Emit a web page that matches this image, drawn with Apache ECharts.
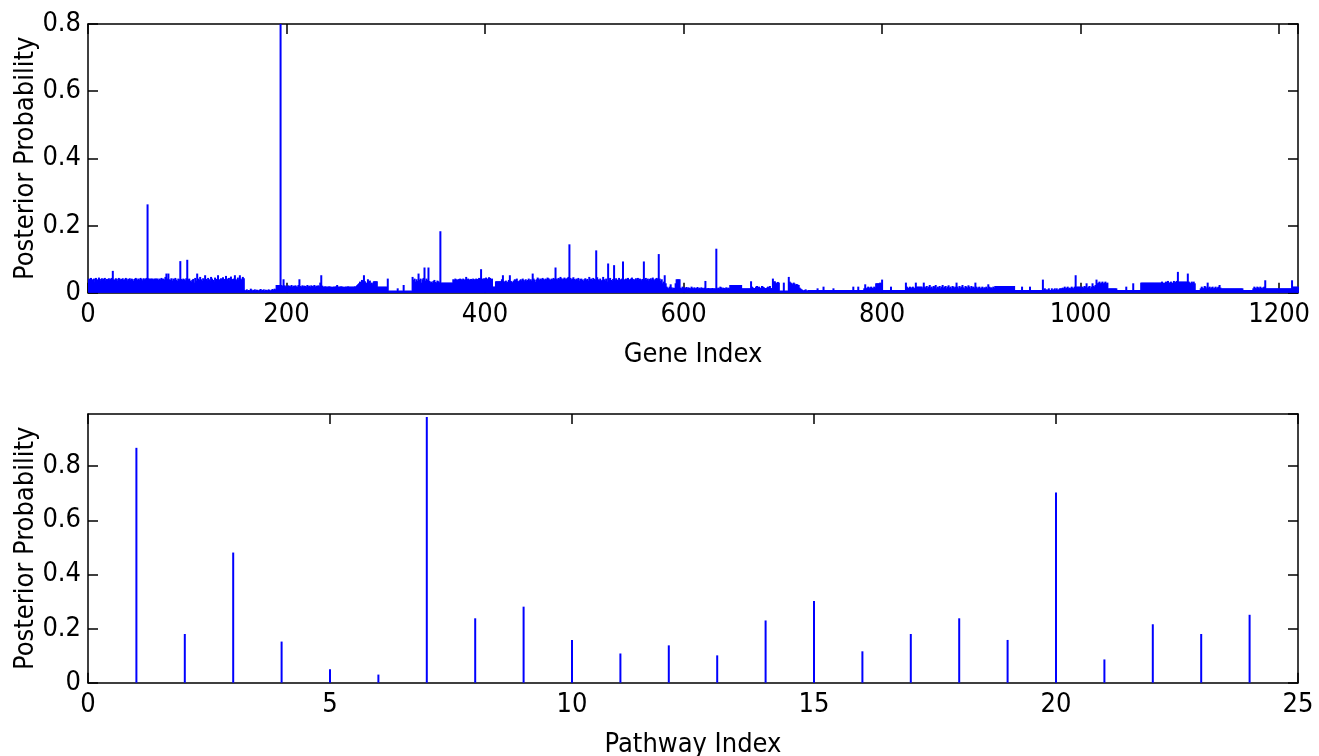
<!DOCTYPE html>
<html><head><meta charset="utf-8">
<script src="https://cdn.jsdelivr.net/npm/echarts@6/dist/echarts.min.js"></script>
<style>html,body{margin:0;padding:0;background:#fff}#c{width:1319px;height:756px}</style>
</head><body><div id="c"></div>
<script>
// Posterior probability per gene (gene 1..1219), in thousandths
const geneProbPermille = [
42,38,44,35,40,42,31,44,40,38,45,41,36,43,39,42,44,37,41,40,
43,39,42,44,65,40,38,43,41,36,44,42,39,41,43,38,40,44,42,37,
41,43,39,42,40,35,41,44,42,38,42,39,44,41,37,43,40,42,44,263,
43,41,42,42,42,40,42,42,42,42,38,42,40,44,41,42,39,47,57,42,
57,40,38,43,36,42,40,44,39,35,42,40,94,41,38,42,40,37,43,98,
40,42,36,33,38,41,30,44,36,57,42,38,47,40,35,43,39,52,41,37,
44,40,36,47,42,38,33,45,41,39,52,40,36,43,38,46,41,37,50,42,
39,44,36,48,41,38,42,52,40,37,45,39,52,42,38,47,43,8,6,10,
6,8,7,12,9,6,8,10,7,9,8,6,9,11,7,8,10,6,9,8,
7,10,8,6,9,11,8,12,10,23,23,23,23,800,23,20,40,22,19,21,
18,22,20,19,23,18,21,20,22,19,18,23,40,20,18,22,19,21,20,18,
23,19,21,18,22,20,19,23,18,21,20,22,19,30,52,21,18,18,19,18,
18,18,19,18,18,17,18,18,18,19,23,18,18,18,19,18,18,17,18,18,
18,19,18,18,18,18,18,18,19,18,22,25,28,33,30,38,35,52,34,30,
28,40,33,36,27,30,25,34,34,34,34,18,18,18,18,18,18,18,18,18,
18,42,6,6,6,6,6,6,6,6,6,13,6,6,6,6,6,23,6,6,
6,6,6,6,6,6,47,38,42,33,40,35,57,38,42,30,40,44,75,36,
42,38,75,35,31,33,30,35,38,32,30,36,34,31,183,30,30,30,30,30,
30,30,30,30,30,30,30,40,38,42,40,38,40,41,42,40,39,42,38,40,
47,40,42,38,40,41,38,42,40,39,42,41,40,44,43,70,42,40,43,41,
45,40,42,46,44,40,42,18,18,18,34,34,34,34,34,34,40,52,34,32,
36,30,33,38,52,35,33,30,36,40,38,42,35,33,37,40,36,42,38,34,
40,35,38,42,37,40,36,57,42,38,32,40,45,42,38,42,40,44,41,38,
42,40,45,43,40,38,42,40,44,41,75,42,40,44,42,47,43,40,42,45,
42,41,44,47,144,44,40,42,46,41,38,42,40,44,36,41,42,39,35,40,
43,38,41,36,47,40,42,38,44,41,39,126,46,40,37,42,35,38,47,40,
36,42,33,87,40,44,38,35,41,82,37,43,39,36,44,40,38,42,93,40,
36,42,39,44,40,38,42,45,41,37,40,43,38,44,39,42,40,36,41,93,
40,44,38,42,36,41,43,39,45,40,37,42,44,41,115,42,35,40,28,33,
52,28,18,15,13,18,25,16,13,15,14,28,40,40,40,40,15,13,18,16,
13,15,17,13,16,14,13,18,15,13,16,13,14,17,13,15,13,16,14,13,
15,35,13,13,14,13,13,13,14,13,13,13,131,13,15,13,18,16,13,15,
14,13,16,13,15,13,23,23,23,23,23,23,23,23,23,23,23,23,13,13,
13,13,13,13,13,13,13,34,18,15,13,14,18,20,16,18,13,15,20,18,
16,14,13,15,18,16,20,14,13,42,33,34,30,28,32,30,6,6,6,6,
30,6,6,6,6,47,33,30,28,25,30,27,23,26,24,23,15,12,10,8,
6,8,10,7,6,8,8,8,8,8,8,8,8,8,13,8,8,8,8,8,
18,8,8,8,8,8,8,8,8,8,13,8,8,8,8,8,8,8,8,8,
8,8,8,8,8,8,8,8,8,8,18,8,8,8,8,18,8,8,8,8,
8,13,25,13,15,18,13,16,18,15,13,18,15,28,28,28,28,30,28,39,
8,8,8,8,8,8,8,8,18,8,8,8,8,8,8,8,8,8,8,8,
8,8,8,30,18,15,13,18,16,13,18,15,13,30,18,18,18,18,18,18,
13,30,18,15,20,13,18,23,15,18,13,20,18,23,13,18,16,20,13,18,
23,15,18,20,13,18,22,15,18,13,20,18,15,18,30,18,13,20,15,18,
23,16,13,20,18,15,22,18,13,20,16,18,15,30,18,13,16,18,13,15,
18,13,16,15,18,13,25,18,15,16,13,18,15,20,20,20,20,20,20,20,
20,20,20,20,20,20,20,20,20,20,20,20,20,8,8,8,8,8,8,8,
18,8,8,8,8,8,8,8,18,8,8,8,8,8,8,8,8,8,8,8,
8,39,8,13,8,10,8,13,8,8,13,8,10,13,8,13,8,10,13,13,
13,15,13,18,13,15,18,13,15,13,18,15,13,18,52,18,18,18,18,18,
13,18,15,20,18,28,15,18,20,13,18,28,20,18,23,39,28,30,33,28,
30,33,28,30,33,28,30,13,13,13,13,13,13,13,13,13,8,8,8,8,
8,8,8,8,8,18,8,8,8,8,8,8,28,8,8,8,8,8,8,8,
30,30,30,30,30,30,30,30,30,30,30,30,30,30,30,30,30,30,30,30,
30,33,30,28,30,33,30,35,30,30,33,28,30,35,30,33,35,62,33,33,
33,33,33,33,33,33,33,57,33,30,28,33,30,33,28,8,8,8,8,8,
13,18,15,13,20,18,13,30,15,18,13,16,18,13,15,18,13,16,18,23,
15,13,13,13,13,13,13,13,13,13,13,13,13,13,13,13,13,13,13,13,
13,13,13,8,8,8,8,8,8,8,8,8,8,13,18,15,13,18,16,13,
18,15,13,16,18,37,13,13,13,13,13,13,13,13,13,13,13,13,13,13,
13,13,13,13,13,13,13,13,13,13,13,13,37,18,18,18,18,18,18
];

const pathwayIds = [1,2,3,4,5,6,7,8,9,10,11,12,13,14,15,16,17,18,19,20,21,22,23,24];
const pathwayProb = [0.868,0.18,0.481,0.152,0.05,0.03,0.982,0.238,0.281,0.158,0.108,0.138,
                     0.101,0.23,0.302,0.116,0.18,0.238,0.158,0.703,0.086,0.216,0.18,0.251];

const geneXTicks = [0,200,400,600,800,1000,1200];
const pathwayXTicks = [0,5,10,15,20,25];

const geneCount = geneProbPermille.length;
const FONT = "'DejaVu Sans Condensed','Liberation Sans Narrow','Liberation Sans',Arial,sans-serif";
const BLUE = '#0000ff';
const axisLine = {show:true, onZero:false, lineStyle:{color:'#000', width:1.5}};
const tick = {show:true, inside:true, length:10, lineStyle:{color:'#000', width:1.5}};
const label = {color:'#000', fontFamily:FONT, fontSize:27};
const nameStyle = {color:'#000', fontFamily:FONT, fontSize:27};
const plain = v => String(+v.toFixed(6));

function xAx(grid, max, interval, name, top) {
  return {
    gridIndex:grid, type:'value', min:0, max:max, interval:interval,
    position: top ? 'top' : 'bottom',
    axisLine:axisLine, axisTick:tick, splitLine:{show:false},
    axisLabel: top ? {show:false} : Object.assign({margin:9, formatter:plain, showMaxLabel: max % interval === 0}, label),
    name: top ? '' : name, nameLocation:'middle', nameGap:49, nameTextStyle:nameStyle
  };
}
function yAx(grid, max, name, right) {
  return {
    gridIndex:grid, type:'value', min:0, max:max, interval:0.2,
    position: right ? 'right' : 'left',
    axisLine:axisLine, axisTick:tick, splitLine:{show:false},
    axisLabel: right ? {show:false} : Object.assign({margin:7, formatter:plain, showMaxLabel: Math.abs(max/0.2 - Math.round(max/0.2)) < 1e-9}, label),
    name: right ? '' : name, nameLocation:'middle', nameGap:49, nameMoveOverlap:false, nameTextStyle:nameStyle
  };
}

const chart = echarts.init(document.getElementById('c'), null, {renderer:'canvas'});
chart.setOption({
  animation:false,
  backgroundColor:'#fff',
  grid:[
    {left:88, right:21, top:24, height:268.7, containLabel:false, outerBoundsMode:'none'},
    {left:88, right:21, top:414, height:268.7, containLabel:false, outerBoundsMode:'none'}
  ],
  xAxis:[
    xAx(0, geneCount, geneXTicks[1]-geneXTicks[0], 'Gene Index', false),
    xAx(0, geneCount, geneXTicks[1]-geneXTicks[0], '', true),
    xAx(1, pathwayXTicks[pathwayXTicks.length-1], pathwayXTicks[1]-pathwayXTicks[0], 'Pathway Index', false),
    xAx(1, pathwayXTicks[pathwayXTicks.length-1], pathwayXTicks[1]-pathwayXTicks[0], '', true)
  ],
  yAxis:[
    yAx(0, 0.8, 'Posterior Probability', false),
    yAx(0, 0.8, '', true),
    yAx(1, 0.993, 'Posterior Probability', false),
    yAx(1, 0.993, '', true)
  ],
  series:[
    {
      type:'bar', xAxisIndex:0, yAxisIndex:0, barWidth:2, barGap:'-100%',
      data: geneProbPermille.map((v,i)=>[i+1, v/1000]),
      itemStyle:{color:BLUE}
    },
    {
      type:'bar', xAxisIndex:2, yAxisIndex:2, barWidth:2,
      data: pathwayIds.map((p,i)=>[p, pathwayProb[i]]),
      itemStyle:{color:BLUE}
    }
  ]
});
</script>
</body></html>
